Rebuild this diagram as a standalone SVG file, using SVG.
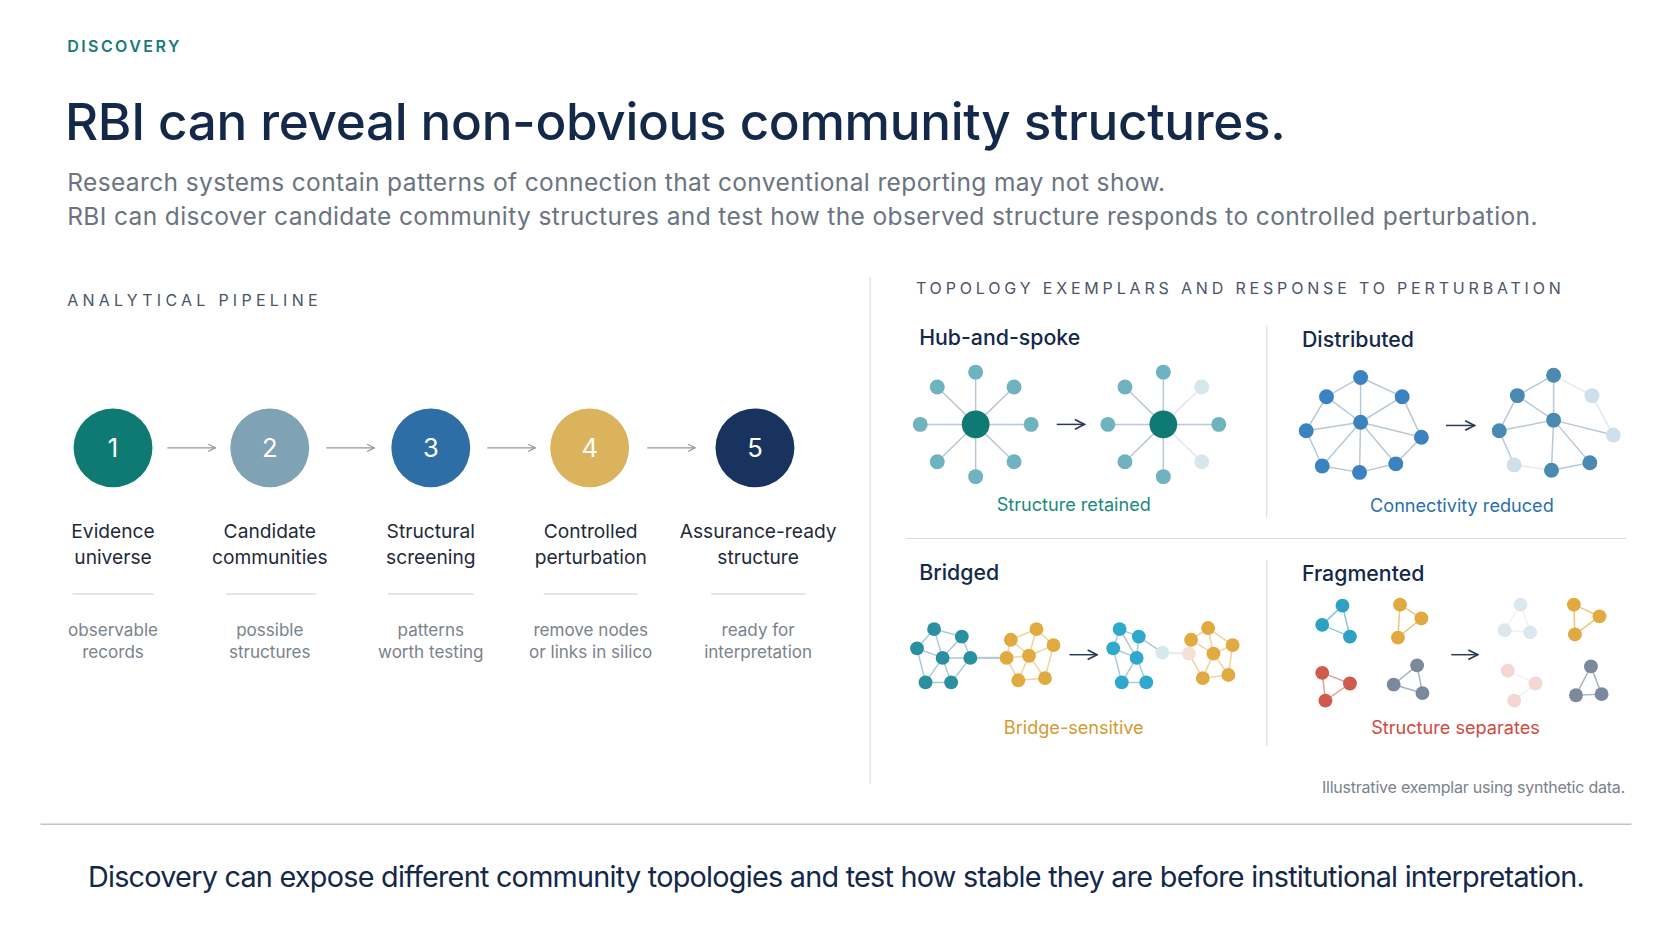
<svg xmlns="http://www.w3.org/2000/svg" width="1672" height="941" viewBox="0 0 1672 941">
<defs>
<marker id="ah" viewBox="0 0 10 10" refX="9" refY="5" markerWidth="7" markerHeight="7" orient="auto"><path d="M1,1 L9,5 L1,9" fill="none" stroke="#8a98a8" stroke-width="1.3"/></marker>
<marker id="ah2" viewBox="0 0 10 10" refX="9" refY="5" markerWidth="8" markerHeight="8" orient="auto"><path d="M1,1 L9,5 L1,9" fill="none" stroke="#2a3a55" stroke-width="1.4"/></marker>
</defs>
<style>
text{font-family:"Inter","Liberation Sans",sans-serif}
.lbl{font-size:18px;fill:#1f2a3a;text-anchor:middle}
.sm{font-size:16px;fill:#7a828c;text-anchor:middle}
.h{font-size:20px;fill:#14284a;font-weight:500}
.e{stroke:#b9c8d6;stroke-width:1.4;fill:none}
.ee{stroke-width:1.4;fill:none}
</style>
<rect width="1672" height="941" fill="#ffffff"/>
<g transform="scale(1.0663)">
<text x="63" y="49" font-size="15" fill="#1a7a7a" font-weight="600" letter-spacing="2.3">DISCOVERY</text>
<text x="61" y="131" font-size="48" fill="#14284a" font-weight="500" letter-spacing="-0.3">RBI can reveal non-obvious community structures.</text>
<text x="63" y="179" font-size="23" fill="#6b7480" letter-spacing="0.35">Research systems contain patterns of connection that conventional reporting may not show.</text>
<text x="63" y="211" font-size="23" fill="#6b7480" letter-spacing="0.35">RBI can discover candidate community structures and test how the observed structure responds to controlled perturbation.</text>
<text x="63" y="287" font-size="15" fill="#4a5568" letter-spacing="4">ANALYTICAL PIPELINE</text>

<g id="connectors">
<line x1="157" y1="420" x2="202" y2="420" stroke="#8a98a8" stroke-width="1.2" marker-end="url(#ah)"/>
<line x1="306" y1="420" x2="351" y2="420" stroke="#8a98a8" stroke-width="1.2" marker-end="url(#ah)"/>
<line x1="457" y1="420" x2="502" y2="420" stroke="#8a98a8" stroke-width="1.2" marker-end="url(#ah)"/>
<line x1="607" y1="420" x2="652" y2="420" stroke="#8a98a8" stroke-width="1.2" marker-end="url(#ah)"/>
</g>

<g id="step1"><circle cx="106" cy="420" r="37" fill="#0e7a73"/><text x="106" y="429" font-size="24" fill="#fff" text-anchor="middle">1</text>
<text class="lbl" x="106" y="505">Evidence</text><text class="lbl" x="106" y="529">universe</text>
<line x1="68" y1="557" x2="144" y2="557" stroke="#c5ccd4"/><text class="sm" x="106" y="596">observable</text><text class="sm" x="106" y="617">records</text></g>
<g id="step2"><circle cx="253" cy="420" r="37" fill="#7fa3b5"/><text x="253" y="429" font-size="24" fill="#fff" text-anchor="middle">2</text>
<text class="lbl" x="253" y="505">Candidate</text><text class="lbl" x="253" y="529">communities</text>
<line x1="212" y1="557" x2="296" y2="557" stroke="#c5ccd4"/><text class="sm" x="253" y="596">possible</text><text class="sm" x="253" y="617">structures</text></g>
<g id="step3"><circle cx="404" cy="420" r="37" fill="#2d6ea6"/><text x="404" y="429" font-size="24" fill="#fff" text-anchor="middle">3</text>
<text class="lbl" x="404" y="505">Structural</text><text class="lbl" x="404" y="529">screening</text>
<line x1="364" y1="557" x2="444" y2="557" stroke="#c5ccd4"/><text class="sm" x="404" y="596">patterns</text><text class="sm" x="404" y="617">worth testing</text></g>
<g id="step4"><circle cx="553" cy="420" r="37" fill="#dbb35c"/><text x="553" y="429" font-size="24" fill="#fff" text-anchor="middle">4</text>
<text class="lbl" x="554" y="505">Controlled</text><text class="lbl" x="554" y="529">perturbation</text>
<line x1="510" y1="557" x2="598" y2="557" stroke="#c5ccd4"/><text class="sm" x="554" y="596">remove nodes</text><text class="sm" x="554" y="617">or links in silico</text></g>
<g id="step5"><circle cx="708" cy="420" r="37" fill="#17335e"/><text x="708" y="429" font-size="24" fill="#fff" text-anchor="middle">5</text>
<text class="lbl" x="711" y="505">Assurance-ready</text><text class="lbl" x="711" y="529">structure</text>
<line x1="667" y1="557" x2="755" y2="557" stroke="#c5ccd4"/><text class="sm" x="711" y="596">ready for</text><text class="sm" x="711" y="617">interpretation</text></g>

<line x1="816" y1="260" x2="816" y2="735" stroke="#d3dbe3"/>
<text x="859" y="276" font-size="15" fill="#4a5568" letter-spacing="3.6">TOPOLOGY EXEMPLARS AND RESPONSE TO PERTURBATION</text>
<line x1="1188" y1="305" x2="1188" y2="485" stroke="#d3dbe3"/>
<line x1="1188" y1="525" x2="1188" y2="700" stroke="#d3dbe3"/>
<line x1="850" y1="505" x2="1525" y2="505" stroke="#d3dbe3"/>

<g id="hub">
<text class="h" x="862" y="324">Hub-and-spoke</text>
<g stroke="#b9c8d6" stroke-width="1.4">
<line x1="915" y1="398" x2="915" y2="349"/><line x1="915" y1="398" x2="915" y2="447"/><line x1="915" y1="398" x2="863" y2="398"/><line x1="915" y1="398" x2="967" y2="398"/>
<line x1="915" y1="398" x2="879" y2="363"/><line x1="915" y1="398" x2="951" y2="363"/><line x1="915" y1="398" x2="879" y2="433"/><line x1="915" y1="398" x2="951" y2="433"/>
<line x1="1091" y1="398" x2="1091" y2="349"/><line x1="1091" y1="398" x2="1091" y2="447"/><line x1="1091" y1="398" x2="1039" y2="398"/><line x1="1091" y1="398" x2="1143" y2="398"/>
<line x1="1091" y1="398" x2="1055" y2="363"/><line x1="1091" y1="398" x2="1055" y2="433"/>
<line x1="1091" y1="398" x2="1127" y2="363" opacity="0.4"/><line x1="1091" y1="398" x2="1127" y2="433" opacity="0.4"/>
</g>
<g fill="#6fb3c0">
<circle cx="915" cy="349" r="7"/><circle cx="915" cy="447" r="7"/><circle cx="863" cy="398" r="7"/><circle cx="967" cy="398" r="7"/>
<circle cx="879" cy="363" r="7"/><circle cx="951" cy="363" r="7"/><circle cx="879" cy="433" r="7"/><circle cx="951" cy="433" r="7"/>
<circle cx="1091" cy="349" r="7"/><circle cx="1091" cy="447" r="7"/><circle cx="1039" cy="398" r="7"/><circle cx="1143" cy="398" r="7"/>
<circle cx="1055" cy="363" r="7"/><circle cx="1055" cy="433" r="7"/>
</g>
<circle cx="1127" cy="363" r="7" fill="#d6e8ec"/><circle cx="1127" cy="433" r="7" fill="#d6e8ec"/>
<circle cx="915" cy="398" r="13" fill="#0e7a73"/><circle cx="1091" cy="398" r="13" fill="#0e7a73"/>
<line x1="991" y1="398" x2="1017" y2="398" stroke="#2a3a55" stroke-width="1.4" marker-end="url(#ah2)"/>
<text x="1007" y="479" font-size="17" fill="#1a8a7a" text-anchor="middle">Structure retained</text>
</g>

<g id="distributed">
<text class="h" x="1221" y="325">Distributed</text>
<g class="e">
<path d="M1276,354 L1244,372 M1276,354 L1315,372 M1276,354 L1276,396 M1244,372 L1225,404 M1244,372 L1276,396 M1315,372 L1276,396 M1315,372 L1333,410 M1225,404 L1276,396 M1225,404 L1240,437 M1240,437 L1275,443 M1275,443 L1309,435 M1276,396 L1240,437 M1276,396 L1275,443 M1276,396 L1333,410 M1276,396 L1309,435 M1309,435 L1333,410"/>
<path d="M1457,352 L1423,371 M1457,352 L1457,394 M1423,371 L1406,404 M1423,371 L1457,394 M1406,404 L1457,394 M1406,404 L1420,436 M1457,394 L1455,441 M1457,394 L1491,434 M1455,441 L1491,434 M1457,394 L1513,408"/>
</g>
<g class="e" opacity="0.4"><path d="M1457,352 L1493,371 M1493,371 L1513,408 M1420,436 L1455,441"/></g>
<g fill="#3a82c0">
<circle cx="1276" cy="354" r="7"/><circle cx="1244" cy="372" r="7"/><circle cx="1315" cy="372" r="7"/><circle cx="1276" cy="396" r="7"/><circle cx="1225" cy="404" r="7"/><circle cx="1333" cy="410" r="7"/><circle cx="1240" cy="437" r="7"/><circle cx="1275" cy="443" r="7"/><circle cx="1309" cy="435" r="7"/>
</g>
<g fill="#4a8ab0">
<circle cx="1457" cy="352" r="7"/><circle cx="1423" cy="371" r="7"/><circle cx="1457" cy="394" r="7"/><circle cx="1406" cy="404" r="7"/><circle cx="1455" cy="441" r="7"/><circle cx="1491" cy="434" r="7"/>
</g>
<g fill="#cfe0ea"><circle cx="1493" cy="371" r="7"/><circle cx="1513" cy="408" r="7"/><circle cx="1420" cy="436" r="7"/></g>
<line x1="1356" y1="399" x2="1383" y2="399" stroke="#2a3a55" stroke-width="1.4" marker-end="url(#ah2)"/>
<text x="1371" y="480" font-size="17" fill="#2a6fb0" text-anchor="middle">Connectivity reduced</text>
</g>

<g id="bridged">
<text class="h" x="862" y="544">Bridged</text>
<g class="ee" stroke="#a9cbd6"><path d="M876,590 L902,597 M876,590 L860,608 M876,590 L884,617 M902,597 L884,617 M902,597 L910,617 M860,608 L884,617 M860,608 L868,640 M884,617 L910,617 M884,617 L868,640 M884,617 L892,640 M868,640 L892,640 M892,640 L910,617"/>
<path d="M1050,590 L1068,597 M1050,590 L1044,608 M1050,590 L1066,617 M1068,597 L1066,617 M1044,608 L1066,617 M1044,608 L1052,640 M1066,617 L1052,640 M1066,617 L1075,640 M1052,640 L1075,640 M1068,597 L1090,612"/></g>
<g class="ee" stroke="#f0d49a"><path d="M972,590 L948,600 M972,590 L988,605 M972,590 L965,615 M948,600 L965,615 M948,600 L944,617 M988,605 L965,615 M988,605 L980,636 M944,617 L965,615 M944,617 L955,638 M965,615 L955,638 M965,615 L980,636 M955,638 L980,636"/>
<path d="M1133,589 L1117,600 M1133,589 L1156,605 M1133,589 L1138,613 M1117,600 L1138,613 M1117,600 L1115,613 M1156,605 L1138,613 M1156,605 L1152,633 M1138,613 L1128,636 M1138,613 L1152,633 M1128,636 L1152,633 M1115,613 L1128,636"/></g>
<line x1="910" y1="617" x2="944" y2="617" stroke="#b9c8d6" stroke-width="2"/>
<line x1="1090" y1="612" x2="1115" y2="613" stroke="#e6ecf0" stroke-width="2"/>
<g fill="#2a8fa0"><circle cx="876" cy="590" r="6.5"/><circle cx="902" cy="597" r="6.5"/><circle cx="860" cy="608" r="6.5"/><circle cx="884" cy="617" r="6.5"/><circle cx="910" cy="617" r="6.5"/><circle cx="868" cy="640" r="6.5"/><circle cx="892" cy="640" r="6.5"/></g>
<g fill="#2ea8cc"><circle cx="1050" cy="590" r="6.5"/><circle cx="1068" cy="597" r="6.5"/><circle cx="1044" cy="608" r="6.5"/><circle cx="1066" cy="617" r="6.5"/><circle cx="1052" cy="640" r="6.5"/><circle cx="1075" cy="640" r="6.5"/></g>
<circle cx="1090" cy="612" r="6.5" fill="#d6e8ee"/>
<g fill="#e0aa40"><circle cx="972" cy="590" r="6.5"/><circle cx="948" cy="600" r="6.5"/><circle cx="988" cy="605" r="6.5"/><circle cx="965" cy="615" r="6.5"/><circle cx="944" cy="617" r="6.5"/><circle cx="955" cy="638" r="6.5"/><circle cx="980" cy="636" r="6.5"/>
<circle cx="1133" cy="589" r="6.5"/><circle cx="1117" cy="600" r="6.5"/><circle cx="1156" cy="605" r="6.5"/><circle cx="1138" cy="613" r="6.5"/><circle cx="1128" cy="636" r="6.5"/><circle cx="1152" cy="633" r="6.5"/></g>
<circle cx="1115" cy="613" r="6.5" fill="#f6e0d6"/>
<line x1="1003" y1="614" x2="1029" y2="614" stroke="#2a3a55" stroke-width="1.4" marker-end="url(#ah2)"/>
<text x="1007" y="688" font-size="17" fill="#d49a2f" text-anchor="middle">Bridge-sensitive</text>
</g>

<g id="fragmented">
<text class="h" x="1221" y="545">Fragmented</text>
<path class="ee" stroke="#8cc6d8" d="M1259,568 L1240,586 L1266,597 Z"/>
<path class="ee" stroke="#ecc77a" d="M1313,567 L1333,580 L1311,598 Z M1476,567 L1500,578 L1477,595 Z"/>
<path class="ee" stroke="#e4a29a" d="M1240,631 L1266,641 L1243,657 Z"/>
<path class="ee" stroke="#a8b3c0" d="M1329,624 L1307,642 L1334,650 Z M1492,625 L1478,652 L1502,651 Z"/>
<path class="ee" stroke="#eef2f5" d="M1426,567 L1411,591 L1435,593 Z M1414,629 L1440,641 L1420,657"/>
<g fill="#2ea0c4"><circle cx="1259" cy="568" r="6.5"/><circle cx="1240" cy="586" r="6.5"/><circle cx="1266" cy="597" r="6.5"/></g>
<g fill="#e0aa40"><circle cx="1313" cy="567" r="6.5"/><circle cx="1333" cy="580" r="6.5"/><circle cx="1311" cy="598" r="6.5"/><circle cx="1476" cy="567" r="6.5"/><circle cx="1500" cy="578" r="6.5"/><circle cx="1477" cy="595" r="6.5"/></g>
<g fill="#d05a4e"><circle cx="1240" cy="631" r="6.5"/><circle cx="1266" cy="641" r="6.5"/><circle cx="1243" cy="657" r="6.5"/></g>
<g fill="#7a8a9c"><circle cx="1329" cy="624" r="6.5"/><circle cx="1307" cy="642" r="6.5"/><circle cx="1334" cy="650" r="6.5"/><circle cx="1492" cy="625" r="6.5"/><circle cx="1478" cy="652" r="6.5"/><circle cx="1502" cy="651" r="6.5"/></g>
<g fill="#dce8ee"><circle cx="1426" cy="567" r="6.5"/><circle cx="1411" cy="591" r="6.5"/><circle cx="1435" cy="593" r="6.5"/></g>
<g fill="#f4d6d2"><circle cx="1414" cy="629" r="6.5"/><circle cx="1440" cy="641" r="6.5"/><circle cx="1420" cy="657" r="6.5"/></g>
<line x1="1361" y1="614" x2="1386" y2="614" stroke="#2a3a55" stroke-width="1.4" marker-end="url(#ah2)"/>
<text x="1365" y="688" font-size="17" fill="#d04a3e" text-anchor="middle">Structure separates</text>
</g>

<text x="1524" y="744" font-size="15" fill="#7a828c" text-anchor="end" letter-spacing="-0.2">Illustrative exemplar using synthetic data.</text>
<line x1="38" y1="773" x2="1530" y2="773" stroke="#b9c4d0" stroke-width="1.5"/>
<text x="784" y="832" font-size="27" fill="#14284a" text-anchor="middle" letter-spacing="-0.7">Discovery can expose different community topologies and test how stable they are before institutional interpretation.</text>
</g>
</svg>
